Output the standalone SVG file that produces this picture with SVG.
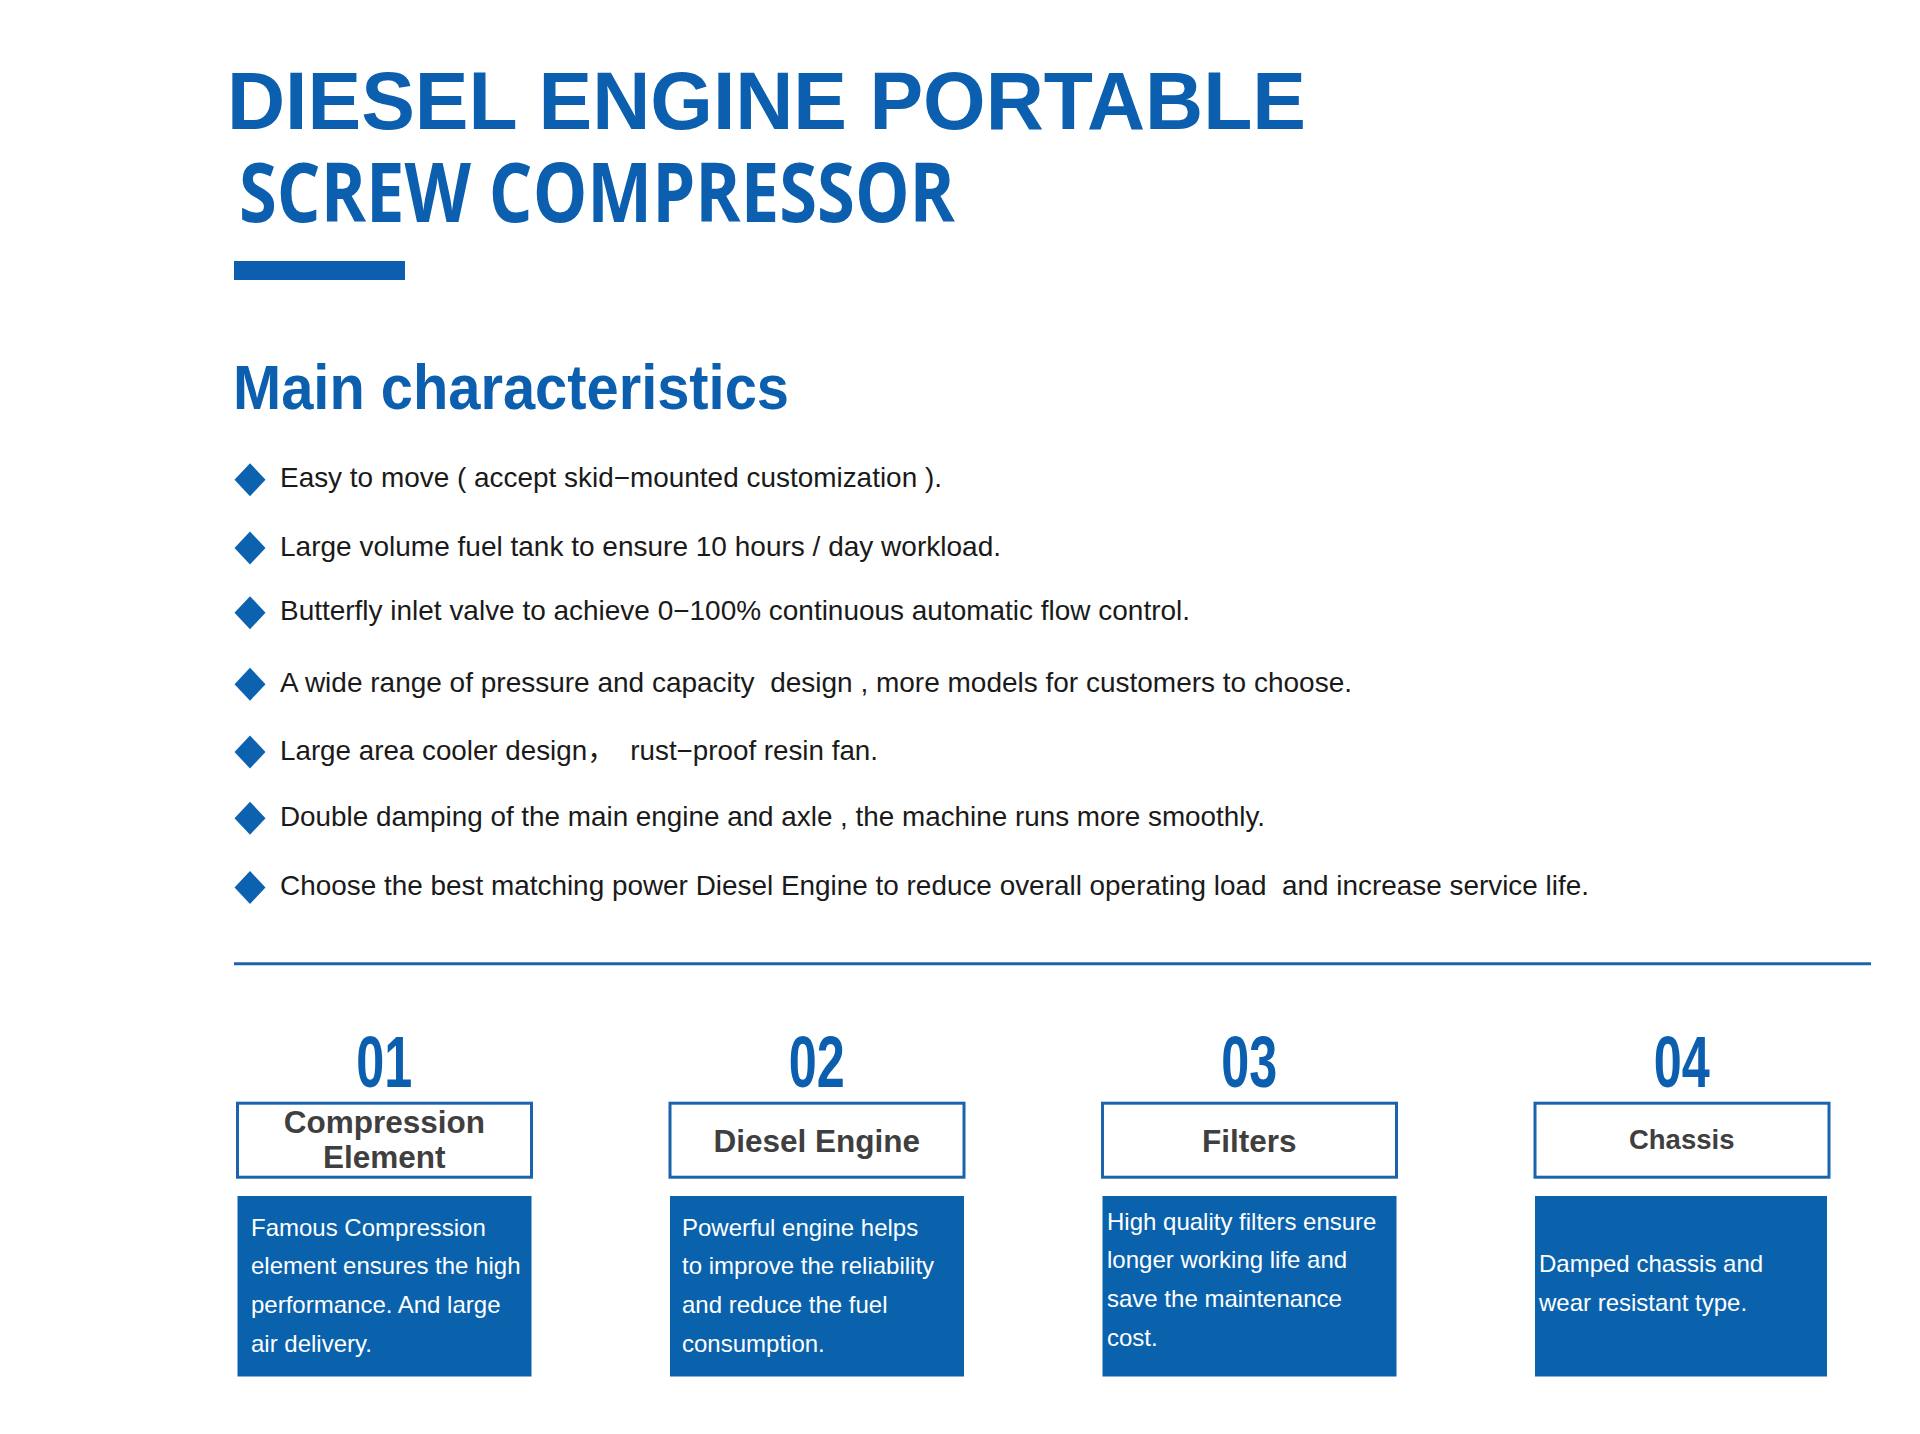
<svg xmlns="http://www.w3.org/2000/svg" xmlns:xlink="http://www.w3.org/1999/xlink" width="1920" height="1434" viewBox="0 0 1920 1434" xml:space="preserve">
<defs>
<style>
.t1{font-family:"Liberation Sans",Arial,sans-serif;font-weight:700;font-size:82px;fill:#0c5fae}
.t2{font-family:"Open Sans","Liberation Sans",sans-serif;font-weight:700;font-size:82px;fill:#0c5fae}
.h2{font-family:"Liberation Sans",Arial,sans-serif;font-weight:700;font-size:63px;fill:#0c5fae}
.bl{font-family:"Liberation Sans",Arial,"Noto Sans CJK SC",sans-serif;font-size:28px;fill:#1a1a1a;white-space:pre}
.dia{fill:#0d62b0}
.num{font-family:"Liberation Sans",Arial,sans-serif;font-weight:700;font-size:72px;fill:#0c5fae;text-anchor:middle}
.frame{fill:#ffffff;stroke:#1b64ad;stroke-width:3}
.lab{font-family:"Liberation Sans",Arial,sans-serif;font-weight:700;font-size:31.5px;fill:#3f3f3f;text-anchor:middle}
.panel{fill:#0a62ad}
.desc{font-family:"Liberation Sans",Arial,sans-serif;font-size:24px;fill:#ffffff}
</style>
<path id="d" d="M0,-16.5 L15.5,0 L0,16.5 L-15.5,0 Z"/>
</defs>
<rect x="0" y="0" width="1920" height="1434" fill="#ffffff"/>

<g id="title">
<text><tspan class="t1" x="227" y="129.3" textLength="1079" lengthAdjust="spacingAndGlyphs">DIESEL ENGINE PORTABLE</tspan><tspan class="t2" x="239" y="221.7" textLength="716" lengthAdjust="spacingAndGlyphs">SCREW COMPRESSOR</tspan></text>
<rect x="234" y="261" width="171" height="19" fill="#0c5fae"/>
</g>

<g id="characteristics">
<text class="h2" x="233" y="409" textLength="556" lengthAdjust="spacingAndGlyphs">Main characteristics</text>
<use xlink:href="#d" class="dia" x="250" y="479.7"/>
<text class="bl" x="280" y="486.7" textLength="662" lengthAdjust="spacingAndGlyphs">Easy to move ( accept skid−mounted customization ).</text>
<use xlink:href="#d" class="dia" x="250" y="548"/>
<text class="bl" x="280" y="555.5" textLength="721" lengthAdjust="spacingAndGlyphs">Large volume fuel tank to ensure 10 hours / day workload.</text>
<use xlink:href="#d" class="dia" x="250" y="612.7"/>
<text class="bl" x="280" y="620.2" textLength="910" lengthAdjust="spacingAndGlyphs">Butterfly inlet valve to achieve 0−100% continuous automatic flow control.</text>
<use xlink:href="#d" class="dia" x="250" y="684.2"/>
<text class="bl" x="280" y="691.7" textLength="1072" lengthAdjust="spacingAndGlyphs">A wide range of pressure and capacity  design , more models for customers to choose.</text>
<use xlink:href="#d" class="dia" x="250" y="752"/>
<text class="bl" x="280" y="759.5" textLength="598" lengthAdjust="spacingAndGlyphs">Large area cooler design，  rust−proof resin fan.</text>
<use xlink:href="#d" class="dia" x="250" y="818.2"/>
<text class="bl" x="280" y="825.7" textLength="985" lengthAdjust="spacingAndGlyphs">Double damping of the main engine and axle , the machine runs more smoothly.</text>
<use xlink:href="#d" class="dia" x="250" y="887.5"/>
<text class="bl" x="280" y="895" textLength="1309" lengthAdjust="spacingAndGlyphs">Choose the best matching power Diesel Engine to reduce overall operating load  and increase service life.</text>
</g>

<g id="separator">
<line x1="234" y1="963.7" x2="1871" y2="963.7" stroke="#1b64ad" stroke-width="3"/>
</g>

<g id="card-01">
<text class="num" x="384.3" y="1086.5" textLength="56" lengthAdjust="spacingAndGlyphs">01</text>
<rect class="frame" x="237.5" y="1103.2" width="294" height="74"/>
<text class="lab" x="384.3" y="1133.3">Compression</text>
<text class="lab" x="384.3" y="1168.3">Element</text>
<rect class="panel" x="237.5" y="1196" width="294" height="180.5"/>
<text class="desc" x="251" y="1235.7">Famous Compression</text>
<text class="desc" x="251" y="1274.4">element ensures the high</text>
<text class="desc" x="251" y="1313">performance. And large</text>
<text class="desc" x="251" y="1351.7">air delivery.</text>
</g>

<g id="card-02">
<text class="num" x="816.8" y="1086.5" textLength="56" lengthAdjust="spacingAndGlyphs">02</text>
<rect class="frame" x="670" y="1103.2" width="294" height="74"/>
<text class="lab" x="816.8" y="1151.5">Diesel Engine</text>
<rect class="panel" x="670" y="1196" width="294" height="180.5"/>
<text class="desc" x="682" y="1235.7">Powerful engine helps</text>
<text class="desc" x="682" y="1274.4">to improve the reliability</text>
<text class="desc" x="682" y="1313">and reduce the fuel</text>
<text class="desc" x="682" y="1351.7">consumption.</text>
</g>

<g id="card-03">
<text class="num" x="1249.3" y="1086.5" textLength="56" lengthAdjust="spacingAndGlyphs">03</text>
<rect class="frame" x="1102.5" y="1103.2" width="294" height="74"/>
<text class="lab" x="1249.3" y="1151.5">Filters</text>
<rect class="panel" x="1102.5" y="1196" width="294" height="180.5"/>
<text class="desc" x="1107" y="1229.7">High quality filters ensure</text>
<text class="desc" x="1107" y="1268.4">longer working life and</text>
<text class="desc" x="1107" y="1307">save the maintenance</text>
<text class="desc" x="1107" y="1345.7">cost.</text>
</g>

<g id="card-04">
<text class="num" x="1681.7" y="1086.5" textLength="56" lengthAdjust="spacingAndGlyphs">04</text>
<rect class="frame" x="1535" y="1103.2" width="294" height="74"/>
<text class="lab" x="1681.7" y="1149" style="font-size:27.5px">Chassis</text>
<rect class="panel" x="1535" y="1196" width="292" height="180.5"/>
<text class="desc" x="1539" y="1272">Damped chassis and</text>
<text class="desc" x="1539" y="1310.5">wear resistant type.</text>
</g>
</svg>
